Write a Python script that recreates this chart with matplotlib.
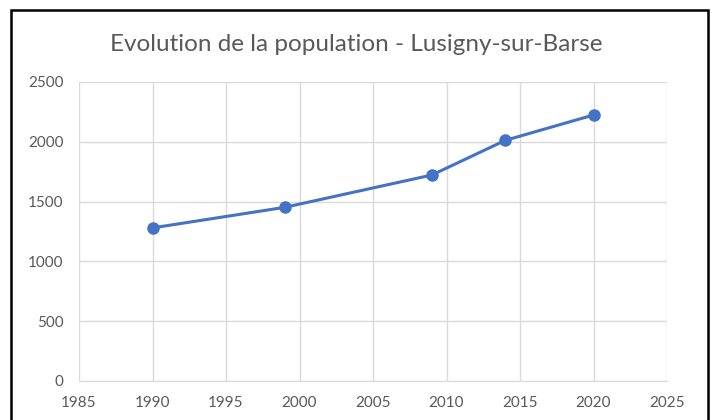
import matplotlib.pyplot as plt
from matplotlib.patches import Rectangle

# Population data
years = [1990, 1999, 2009, 2014, 2020]
population = [1280, 1452, 1722, 2012, 2224]

x_ticks = [1985, 1990, 1995, 2000, 2005, 2010, 2015, 2020, 2025]
y_ticks = [0, 500, 1000, 1500, 2000, 2500]

plt.rcParams['font.family'] = ['Lato', 'DejaVu Sans']

fig = plt.figure(figsize=(7.13, 4.2), dpi=100)
ax = fig.add_axes([0.1108, 0.0929, 0.8247, 0.7119])

ax.plot(years, population, color="#4472C4", linewidth=2.2,
        marker="o", markersize=8, zorder=3)

ax.set_xlim(1985, 2025)
ax.set_ylim(0, 2500)
ax.set_xticks(x_ticks)
ax.set_yticks(y_ticks)
ax.grid(True, color="#D9D9D9", linewidth=1)
ax.set_axisbelow(True)
for side in ["top", "right", "left"]:
    ax.spines[side].set_visible(False)
ax.spines["bottom"].set_color("#D9D9D9")
ax.tick_params(length=0, labelsize=11, colors="#595959")
ax.tick_params(axis="y", pad=11)
ax.tick_params(axis="x", pad=11)

fig.text(0.5, 0.895, "Evolution de la population - Lusigny-sur-Barse",
         ha="center", va="center", fontsize=17.5, color="#595959")

# black frame around the chart (bottom edge is cut off in the reference)
fig.patches.append(Rectangle((11 / 713, -0.05), 697 / 713, 1 - 10 / 420 + 0.05,
                             transform=fig.transFigure, fill=False,
                             edgecolor="black", linewidth=1.8))

fig.savefig("out.png", dpi=100, facecolor="white")
